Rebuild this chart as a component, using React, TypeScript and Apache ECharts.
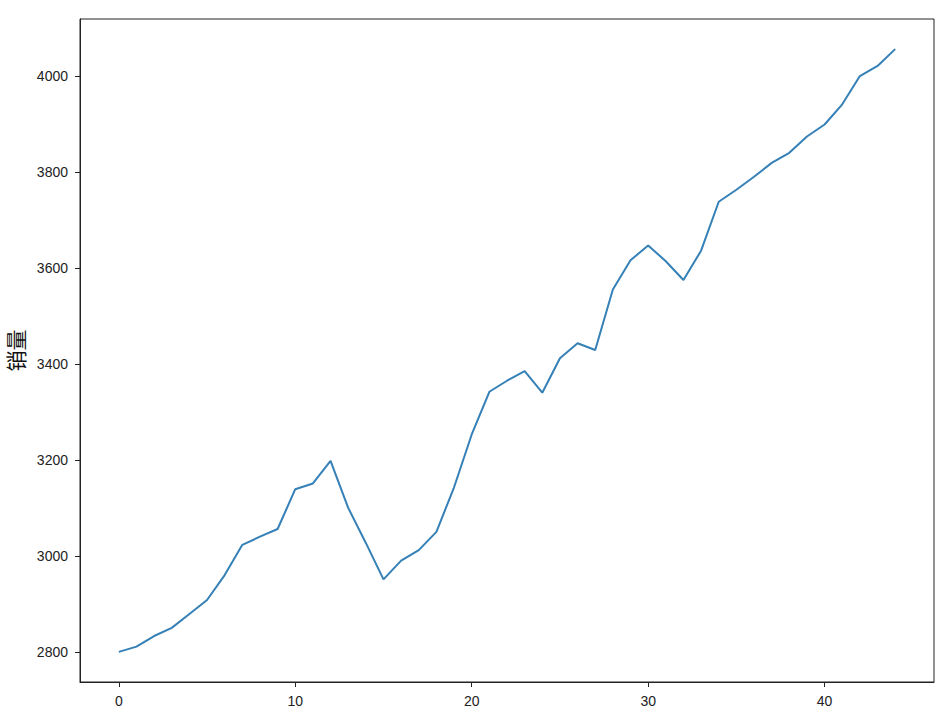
import React, { useEffect, useRef } from 'react';
import * as echarts from 'echarts';

// sales per period, index 0..44
const sales = [
  2800, 2811, 2833, 2850, 2879, 2908, 2960, 3023, 3040, 3056,
  3139, 3151, 3198, 3100, 3027, 2951, 2990, 3012, 3050, 3143,
  3253, 3342, 3365, 3385, 3340, 3412, 3443, 3429, 3555, 3616,
  3647, 3614, 3575, 3636, 3738, 3763, 3790, 3819, 3840, 3874,
  3899, 3941, 4000, 4021, 4056
];
const xTicks = [0, 10, 20, 30, 40];
const yTicks = [2800, 3000, 3200, 3400, 3600, 3800, 4000];
const yName = '销量';

const App: React.FC = () => {
  const chartRef = useRef<HTMLDivElement>(null);

  useEffect(() => {
    document.body.style.margin = '0';
    if (!chartRef.current) return;
    const chart = echarts.init(chartRef.current, undefined, { renderer: 'svg' });

    const data = sales.map((v, i) => [i, v]);
    const lo = Math.min(...sales);
    const hi = Math.max(...sales);
    const padY = (hi - lo) * 0.05;
    const padX = (sales.length - 1) * 0.05;

    const axisLabelStyle = {
      color: '#222',
      fontSize: 14,
      fontFamily: '"Liberation Sans", Arial, sans-serif',
      margin: 12,
      formatter: (v: number) => String(v)
    };

    chart.setOption({
      animation: false,
      backgroundColor: '#fff',
      grid: {
        left: 80,
        right: 4,
        top: 19,
        bottom: 34,
        show: true,
        borderColor: '#222',
        borderWidth: 1,
        containLabel: false,
        outerBoundsMode: 'none'
      },
      xAxis: {
        type: 'value',
        min: -padX,
        max: sales.length - 1 + padX,
        axisLine: { show: true, onZero: false, lineStyle: { color: '#222', width: 1 } },
        axisTick: {
          show: true,
          length: 5,
          customValues: xTicks,
          lineStyle: { color: '#222' }
        },
        axisLabel: { ...axisLabelStyle, customValues: xTicks },
        splitLine: { show: false }
      },
      yAxis: {
        type: 'value',
        min: lo - padY,
        max: hi + padY,
        name: yName,
        nameLocation: 'middle',
        nameRotate: 90,
        nameGap: 55,
        nameTextStyle: {
          color: '#111',
          fontSize: 21,
          fontFamily: '"Noto Sans CJK SC", sans-serif'
        },
        axisLine: { show: true, onZero: false, lineStyle: { color: '#222', width: 1 } },
        axisTick: {
          show: true,
          length: 5,
          customValues: yTicks,
          lineStyle: { color: '#222' }
        },
        axisLabel: { ...axisLabelStyle, customValues: yTicks },
        splitLine: { show: false }
      },
      series: [
        {
          type: 'line',
          data,
          showSymbol: false,
          lineStyle: { color: '#3580b6', width: 2 }
        }
      ]
    });

    return () => {
      chart.dispose();
    };
  }, []);

  return (
    <div
      ref={chartRef}
      style={{ position: 'fixed', left: 0, top: 0, width: 938, height: 716 }}
    />
  );
};

export default App;
